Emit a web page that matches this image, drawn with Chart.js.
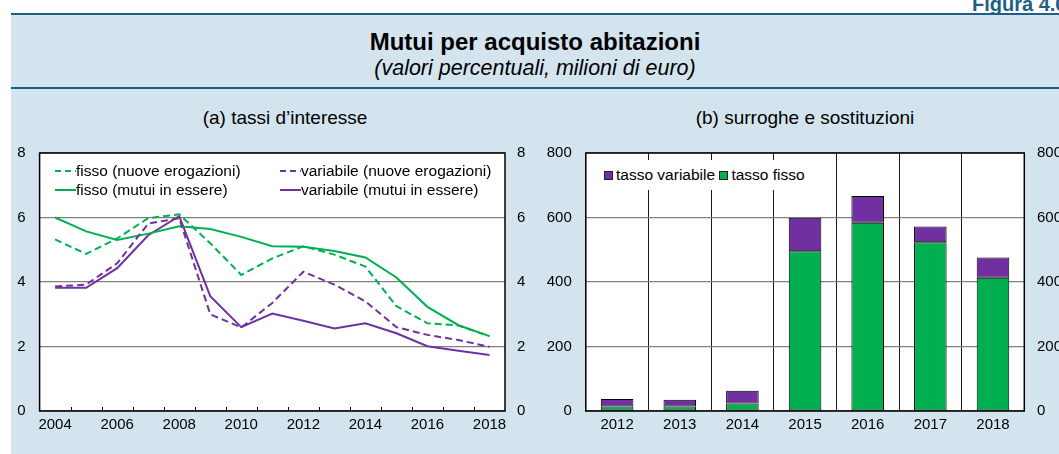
<!DOCTYPE html>
<html>
<head>
<meta charset="utf-8">
<script src="https://cdn.jsdelivr.net/npm/chart.js@4.4.1/dist/chart.umd.min.js"></script>
<style>
  html, body { margin:0; padding:0; }
  body { width:1059px; height:454px; overflow:hidden; position:relative; background:#fff;
         font-family:"Liberation Sans", Arial, sans-serif; color:#000; }
  .abs { position:absolute; }
  #panel { left:11px; top:15px; width:1048px; height:439px; background:#d3e4ee; }
  .rule { left:11px; width:1048px; height:2px; background:#1d5f86; }
  .ctr { text-align:center; white-space:nowrap; }
  .leg { display:flex; align-items:center; font-size:15.5px; white-space:nowrap; line-height:18px; }
  .sq { display:inline-block; width:7px; height:7px; border:1px solid #222; margin-right:3px; }
</style>
</head>
<body>
<div id="panel" class="abs"></div>
<div class="abs" style="left:972px; top:-7px; font-weight:bold; font-size:20px; line-height:22px; color:#1d5f86; white-space:nowrap;">Figura 4.6</div>
<div class="abs rule" style="top:13px;"></div>
<div class="abs rule" style="top:87px;"></div>
<div class="abs ctr" style="left:11px; width:1048px; top:28px; font-size:24px; line-height:28px; font-weight:bold;">Mutui per acquisto abitazioni</div>
<div class="abs ctr" style="left:11px; width:1048px; top:56px; font-size:21.5px; line-height:24px; font-style:italic;">(valori percentuali, milioni di euro)</div>
<div class="abs ctr" style="left:135px; width:300px; top:107px; font-size:19px; line-height:22px;">(a) tassi d’interesse</div>
<div class="abs ctr" style="left:655px; width:300px; top:107px; font-size:19px; line-height:22px;">(b) surroghe e sostituzioni</div>

<canvas id="c1" class="abs" width="519" height="324" style="left:11px; top:130px; width:519px; height:324px;"></canvas>
<canvas id="c2" class="abs" width="535" height="324" style="left:530px; top:130px; width:535px; height:324px;"></canvas>

<!-- legend (a) -->
<div class="abs leg" style="left:55px; top:162px;"><svg width="21" height="4"><line x1="0" y1="2" x2="21" y2="2" stroke="#00b050" stroke-width="2" stroke-dasharray="6,4"/></svg>fisso (nuove erogazioni)</div>
<div class="abs leg" style="left:55px; top:181px;"><svg width="21" height="4"><line x1="0" y1="2" x2="21" y2="2" stroke="#00b050" stroke-width="2"/></svg>fisso (mutui in essere)</div>
<div class="abs leg" style="left:280px; top:162px;"><svg width="21" height="4"><line x1="0" y1="2" x2="21" y2="2" stroke="#7030a0" stroke-width="2" stroke-dasharray="6,4"/></svg>variabile (nuove erogazioni)</div>
<div class="abs leg" style="left:280px; top:181px;"><svg width="21" height="4"><line x1="0" y1="2" x2="21" y2="2" stroke="#7030a0" stroke-width="2"/></svg>variabile (mutui in essere)</div>

<!-- legend (b) -->
<div class="abs leg" style="left:598px; top:160px; height:30px; width:218px; background:#fff; padding-left:6px; box-sizing:border-box;">
  <span class="sq" style="background:#7030a0;"></span>tasso variabile&nbsp;<span class="sq" style="background:#00b050;"></span>tasso fisso
</div>

<script>
// ---- data ----
const years = ['2004','2005','2006','2007','2008','2009','2010','2011','2012','2013','2014','2015','2016','2017','2018'];
const fissoNuove      = [5.32, 4.87, 5.35, 5.98, 6.10, 5.20, 4.22, 4.73, 5.11, 4.85, 4.48, 3.25, 2.72, 2.65, 2.32];
const fissoEssere     = [6.00, 5.57, 5.30, 5.50, 5.73, 5.64, 5.40, 5.11, 5.09, 4.96, 4.76, 4.14, 3.23, 2.66, 2.32];
const variabileNuove  = [3.86, 3.92, 4.58, 5.81, 5.98, 3.00, 2.59, 3.35, 4.32, 3.92, 3.40, 2.60, 2.36, 2.20, 1.99];
const variabileEssere = [3.82, 3.82, 4.43, 5.45, 6.04, 3.56, 2.60, 3.02, 2.80, 2.56, 2.72, 2.41, 2.01, 1.87, 1.74];
const rateTicks = [0, 2, 4, 6, 8];

const barYears = ['2012','2013','2014','2015','2016','2017','2018'];
const tassoFisso     = [14, 14, 23, 495, 584, 523, 413];
const tassoVariabile = [23, 21, 40, 104, 83, 49, 63];
const amountTicks = [0, 200, 400, 600, 800];

const FONT = '"Liberation Sans", Arial, sans-serif';
const GREEN = '#00b050', PURPLE = '#7030a0';

const framePlugin = {
  id: 'frame',
  beforeDraw(chart) {
    const {ctx, chartArea: a} = chart;
    ctx.save(); ctx.fillStyle = '#fff';
    ctx.fillRect(a.left, a.top, a.right - a.left, a.bottom - a.top);
    ctx.restore();
  },
  afterDraw(chart, args, opts) {
    const {ctx, chartArea: a} = chart;
    ctx.save();
    if (opts.innerTicks) {
      const sx = chart.scales.x;
      ctx.strokeStyle = '#000'; ctx.lineWidth = 1;
      for (let i = 0; i < sx.ticks.length - 1; i++) {
        const x = Math.round((sx.getPixelForTick(i) + sx.getPixelForTick(i + 1)) / 2) + 0.5;
        ctx.beginPath(); ctx.moveTo(x, a.bottom); ctx.lineTo(x, a.bottom - 4); ctx.stroke();
      }
    }
    ctx.strokeStyle = '#000'; ctx.lineWidth = 1.5;
    ctx.strokeRect(a.left, a.top, a.right - a.left, a.bottom - a.top);
    ctx.restore();
  }
};

function yAxis(pos, ticksArr, width, pad, gridOn) {
  return {
    position: pos, min: ticksArr[0], max: ticksArr[ticksArr.length - 1],
    afterBuildTicks: s => { s.ticks = ticksArr.map(v => ({value: v})); },
    ticks: { color: '#000', font: {family: FONT, size: 15}, padding: pad },
    grid: { display: gridOn, color: '#808080', lineWidth: 1.2, drawTicks: false },
    border: { display: false },
    afterFit: s => { s.width = width; }
  };
}

new Chart(document.getElementById('c1'), {
  type: 'line',
  data: {
    labels: years,
    datasets: [
      { label: 'fisso (nuove erogazioni)', data: fissoNuove, borderColor: GREEN, borderDash: [7, 4], borderWidth: 2, pointRadius: 0, tension: 0 },
      { label: 'variabile (nuove erogazioni)', data: variabileNuove, borderColor: PURPLE, borderDash: [7, 4], borderWidth: 2, pointRadius: 0, tension: 0 },
      { label: 'fisso (mutui in essere)', data: fissoEssere, borderColor: GREEN, borderWidth: 2, pointRadius: 0, tension: 0 },
      { label: 'variabile (mutui in essere)', data: variabileEssere, borderColor: PURPLE, borderWidth: 2, pointRadius: 0, tension: 0 }
    ]
  },
  options: {
    responsive: false, animation: false, devicePixelRatio: 1,
    layout: { padding: {top: 0, left: 0, right: 0, bottom: 0}, autoPadding: false },
    plugins: { legend: {display: false}, tooltip: {enabled: false}, frame: {innerTicks: true} },
    scales: {
      x: {
        type: 'category', offset: true,
        grid: { display: false, offset: true, drawTicks: false }, border: { display: false },
        ticks: { autoSkip: false, maxRotation: 0, color: '#000', font: {family: FONT, size: 15}, padding: 5,
                 callback: (v, i) => (i % 2 === 0 ? years[i] : '') },
        afterFit: s => { s.height = 43; }
      },
      y: yAxis('left', rateTicks, 28.6, 14, true),
      y2: yAxis('right', rateTicks, 25, 12, false)
    }
  },
  plugins: [framePlugin]
});

new Chart(document.getElementById('c2'), {
  type: 'bar',
  data: {
    labels: barYears,
    datasets: [
      { label: 'tasso fisso', data: tassoFisso, backgroundColor: GREEN, borderColor: '#000', borderWidth: 1, borderSkipped: false },
      { label: 'tasso variabile', data: tassoVariabile, backgroundColor: PURPLE, borderColor: '#000', borderWidth: 1, borderSkipped: false }
    ]
  },
  options: {
    responsive: false, animation: false, devicePixelRatio: 1,
    layout: { padding: {top: 0, left: 0, right: 0, bottom: 0}, autoPadding: false },
    datasets: { bar: { barPercentage: 0.52, categoryPercentage: 1 } },
    plugins: { legend: {display: false}, tooltip: {enabled: false}, frame: {innerTicks: false} },
    scales: {
      x: {
        type: 'category', stacked: true, offset: true,
        grid: { display: true, offset: true, color: '#1a1a1a', lineWidth: 1, drawTicks: false }, border: { display: false },
        ticks: { autoSkip: false, maxRotation: 0, color: '#000', font: {family: FONT, size: 15}, padding: 5 },
        afterFit: s => { s.height = 43; }
      },
      y: Object.assign(yAxis('left', amountTicks, 55.8, 14, true), {stacked: true}),
      y2: yAxis('right', amountTicks, 40.7, 12.7, false)
    }
  },
  plugins: [framePlugin]
});
</script>
</body>
</html>
